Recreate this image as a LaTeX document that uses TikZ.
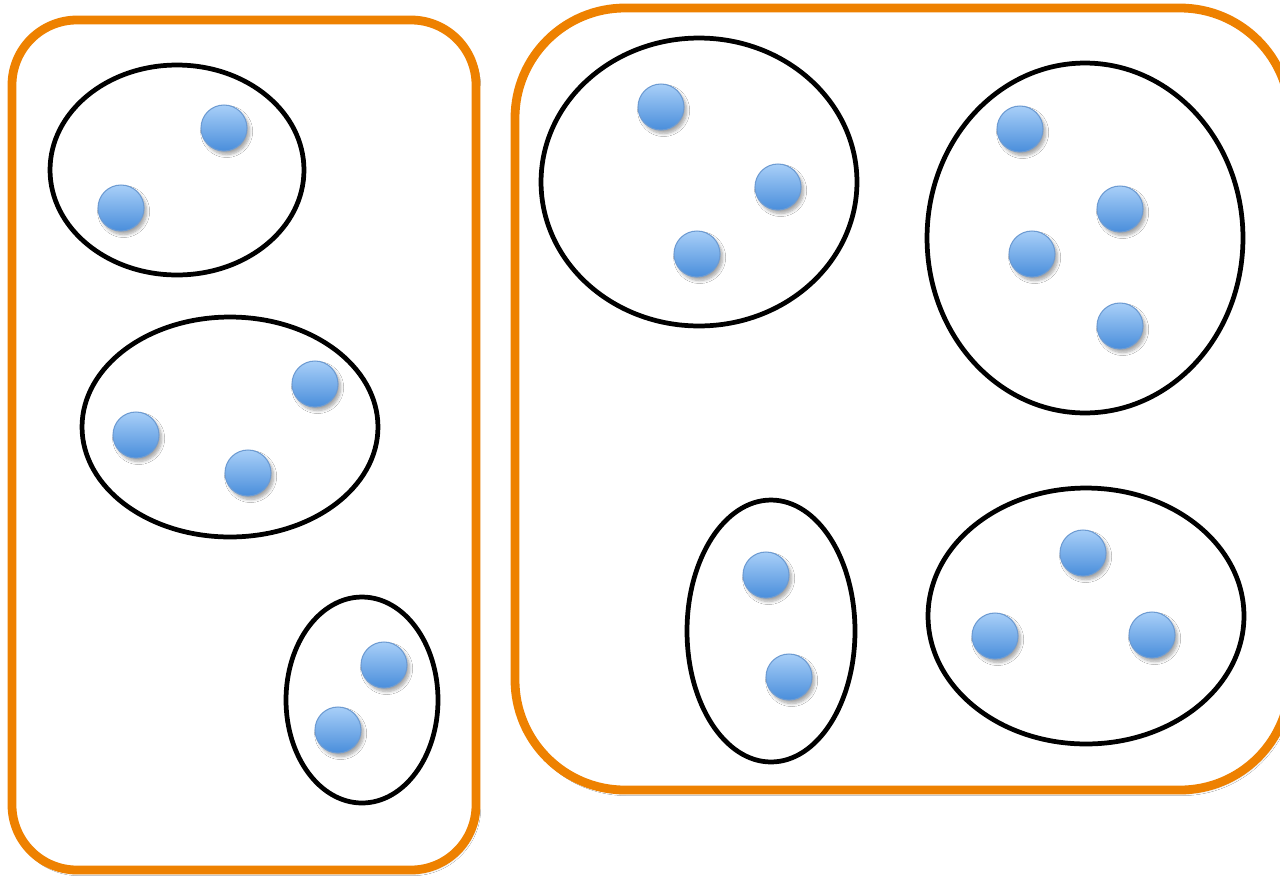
\documentclass[tikz,border=0pt]{standalone}
\usetikzlibrary{shapes.geometric,shadows.blur}
\definecolor{orng}{HTML}{EE8100}
\definecolor{balltop}{HTML}{A8CFF8}
\definecolor{ballbot}{HTML}{4A8EDB}
\definecolor{ballrim}{HTML}{6D9BD2}
\tikzset{
  grp/.style={draw=orng, fill=white, line width=5pt, rounded corners=#1, blur shadow={shadow xshift=1pt,shadow yshift=-1.5pt,shadow blur steps=5,shadow opacity=30}},
  set/.style={draw=black, line width=2.7pt, ellipse, inner sep=0pt, outer sep=0pt},
  ball/.style={circle, draw=ballrim, line width=0.6pt, minimum size=0.92cm, inner sep=0pt,
    top color=balltop, bottom color=ballbot,
    blur shadow={shadow xshift=1.5pt,shadow yshift=-2pt,shadow blur steps=6,shadow opacity=35}}
}
\begin{document}
\begin{tikzpicture}[x=0.02cm,y=-0.02cm]
\useasboundingbox (0,0) rectangle (1280,876);
\clip (0,0) rectangle (1280,876);
\fill[white] (0,0) rectangle (1280,876);
% orange groups
\draw[grp=1.3cm] (12,20) rectangle (476,870);
\draw[grp=2.2cm] (515,8) rectangle (1290,790);
% left ellipses
\node[set, minimum width=5.08cm, minimum height=4.2cm] (l1) at (177,170) {};
\node[set, minimum width=5.92cm, minimum height=4.4cm] (l2) at (230,427) {};
\node[set, minimum width=3.04cm, minimum height=4.12cm] (l3) at (362,700) {};
% right ellipses
\node[set, minimum width=6.32cm, minimum height=5.76cm] (r1) at (699,182) {};
\node[set, minimum width=6.32cm, minimum height=7.0cm] (r2) at (1085,238) {};
\node[set, minimum width=3.36cm, minimum height=5.24cm] (r3) at (771,631) {};
\node[set, minimum width=6.32cm, minimum height=5.12cm] (r4) at (1086,616) {};
% balls
\node[ball] (b1) at (224,128) {};
\node[ball] (b2) at (121,208) {};
\node[ball] (b3) at (315,384) {};
\node[ball] (b4) at (136,435) {};
\node[ball] (b5) at (248,473) {};
\node[ball] (b6) at (384,665) {};
\node[ball] (b7) at (338,730) {};
\node[ball] (b8) at (661,107) {};
\node[ball] (b9) at (778,187) {};
\node[ball] (b10) at (697,254) {};
\node[ball] (b11) at (1020,129) {};
\node[ball] (b12) at (1120,209) {};
\node[ball] (b13) at (1032,254) {};
\node[ball] (b14) at (1120,326) {};
\node[ball] (b15) at (766,575) {};
\node[ball] (b16) at (789,677) {};
\node[ball] (b17) at (1083,553) {};
\node[ball] (b18) at (995,636) {};
\node[ball] (b19) at (1152,635) {};
\end{tikzpicture}
\end{document}
